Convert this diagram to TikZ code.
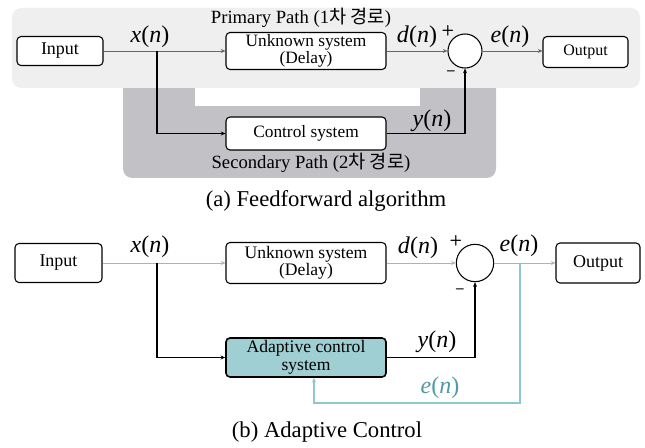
\documentclass[tikz,border=0pt]{standalone}
\usepackage{fontspec}
\setmainfont{Liberation Serif}
\newfontfamily\krfont{Noto Sans CJK KR}
\usetikzlibrary{arrows.meta}
\newcommand\sig[1]{\textit{#1}(\textit{n})}
\definecolor{bglight}{HTML}{EFEFEF}
\definecolor{bgdark}{HTML}{C2C2C6}
\definecolor{tealfill}{HTML}{9FCFD3}
\definecolor{tealline}{HTML}{8CC9CE}
\definecolor{tealtext}{HTML}{4E9CA3}
\begin{document}
\begin{tikzpicture}[x=0.75pt,y=-0.75pt,
  blk/.style={draw, rounded corners=3pt, line width=0.8pt, fill=white, inner sep=0pt, align=center, font=\fontsize{13.5}{12.5}\selectfont},
  sumc/.style={draw, circle, line width=0.8pt, fill=white, inner sep=0pt},
  thinln/.style={draw=gray!80!black, line width=0.5pt, -{Stealth[length=3.5pt,width=3pt]}},
  thickln/.style={draw=black, line width=0.9pt, -{Stealth[length=3.5pt,width=3pt]}},
  fbln/.style={draw=tealline, line width=0.9pt, -{Stealth[length=3.5pt,width=3pt]}},
  lbl/.style={font=\fontsize{18}{18}\selectfont, inner sep=0pt},
  pmtxt/.style={font=\fontsize{11}{11}\selectfont\sffamily\bfseries, inner sep=0pt},
  captxt/.style={font=\fontsize{17}{17}\selectfont, inner sep=0pt},
  pathtxt/.style={font=\fontsize{14}{14}\selectfont, inner sep=0pt}]
\useasboundingbox (0,0) rectangle (645,448);
\fill[white] (0,0) rectangle (645,448);
% ---- (a) backgrounds
\fill[bgdark, rounded corners=7pt] (123,80) rectangle (496,178);
\fill[bglight, rounded corners=7pt] (12,8) rectangle (640,88);
\fill[bglight] (123,80) rectangle (496,88);
\fill[white] (195,88) rectangle (420,106);
\node[pathtxt] (pp) at (301,18) {Primary Path (1{\krfont 차 경로})};
\node[pathtxt] (sp) at (311,163) {Secondary Path (2{\krfont 차 경로})};
% ---- (a) blocks
\node[blk, minimum width=64.5pt, minimum height=21.75pt] (in1) at (60,51) {Input};
\node[blk, minimum width=120pt, minimum height=27.75pt, font=\fontsize{13}{11.5}\selectfont] (unk1) at (306,51) {Unknown system\\(Delay)};
\node[sumc, minimum size=25.5pt] (sum1) at (465,51) {};
\node[blk, minimum width=63.75pt, minimum height=23.25pt, font=\fontsize{12}{10}\selectfont] (out1) at (585.5,52) {Output};
\node[blk, minimum width=120pt, minimum height=24.75pt, font=\fontsize{13}{10}\selectfont] (ctl1) at (306,133.5) {Control system};
\coordinate (br1) at (157,51);
\draw[thinln] (in1.east) -- (unk1.west);
\draw[thinln] (unk1.east) -- (sum1.west);
\draw[thinln] (sum1.east) -- (out1.west |- sum1.east);
\draw[thickln] (br1) |- (ctl1.west);
\draw[thickln] (ctl1.east) -| (sum1.south);
\node[lbl] (x1) at (150,37) {\sig{x}};
\node[lbl] (d1) at (417,37) {\sig{d}};
\node[lbl] (e1) at (510,37) {\sig{e}};
\node[lbl] (y1) at (432,121) {\sig{y}};
\node[pmtxt] (p1) at (448,31) {+};
\node[pmtxt] (m1) at (451,73) {–};
\node[captxt] (ca) at (326,201) {(a) Feedforward algorithm};
% ---- (b) blocks
\node[blk, minimum width=65.25pt, minimum height=29.25pt] (in2) at (58.5,263) {Input};
\node[blk, minimum width=120pt, minimum height=30.75pt, font=\fontsize{13.2}{12.5}\selectfont] (unk2) at (306,263) {Unknown system\\(Delay)};
\node[sumc, minimum size=28pt] (sum2) at (475,263) {};
\node[blk, minimum width=63pt, minimum height=30pt] (out2) at (598,263) {Output};
\node[blk, fill=tealfill, line width=1.2pt, minimum width=120pt, minimum height=29.25pt, font=\fontsize{13.2}{13.2}\selectfont] (adp) at (306,357.5) {Adaptive control\\system};
\coordinate (br2) at (157,263);
\coordinate (fb) at (520,263);
\coordinate (fbk) at (314,403);
\draw[thinln, draw=gray!60] (in2.east) -- (unk2.west);
\draw[thinln, draw=gray!60] (unk2.east) -- (sum2.west);
\draw[thinln, draw=gray!60] (sum2.east) -- (out2.west);
\draw[thickln] (br2) |- (adp.west);
\draw[thickln] (adp.east) -| (sum2.south);
\draw[fbln] (fb) |- (fbk) -- (fbk |- adp.south);
\node[lbl] (x2) at (150,247) {\sig{x}};
\node[lbl] (d2) at (418,248) {\sig{d}};
\node[lbl] (e2) at (519,246) {\sig{e}};
\node[lbl] (y2) at (437,342) {\sig{y}};
\node[lbl, text=tealtext] (e3) at (440,388) {\sig{e}};
\node[pmtxt] (p2) at (456,241) {+};
\node[pmtxt] (m2) at (460,291) {–};
\node[captxt] (cb) at (327,432) {(b) Adaptive Control};
\end{tikzpicture}
\end{document}
